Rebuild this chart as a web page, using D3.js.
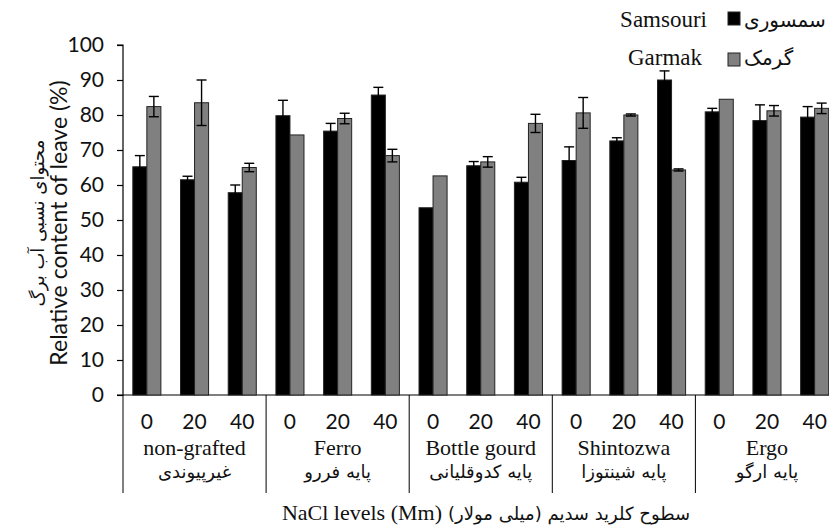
<!DOCTYPE html>
<html>
<head>
<meta charset="utf-8">
<script src="https://cdn.jsdelivr.net/npm/d3@7"></script>
<style>
  html, body { margin: 0; padding: 0; background: #fff; }
  svg { display: block; }
</style>
</head>
<body>
<svg id="chart" width="829" height="530"></svg>
<script>
// ---- data ----
const rootstocks = ["non-grafted", "Ferro", "Bottle gourd", "Shintozwa", "Ergo"];
const rootstocksFa = ["غیرپیوندی", "پایه فررو", "پایه کدوقلیانی", "پایه شینتوزا", "پایه ارگو"];
const nacl = ["0", "20", "40"];
const seriesNames = ["Samsouri", "Garmak"];
const seriesNamesFa = ["سمسوری", "گرمک"];
const samsouri = [65.2, 61.5, 57.8, 79.8, 75.4, 85.7, 53.5, 65.5, 60.8, 67.0, 72.6, 90.0, 80.9, 78.4, 79.4];
const samsouriErr = [3.2, 1.0, 2.2, 4.4, 2.2, 2.2, 0, 1.2, 1.4, 3.9, 0.9, 2.6, 1.0, 4.5, 3.0];
const garmak = [82.4, 83.5, 65.0, 74.3, 79.0, 68.4, 62.6, 66.6, 77.6, 80.6, 80.0, 64.3, 84.5, 81.2, 81.9];
const garmakErr = [2.9, 6.5, 1.2, 0, 1.5, 1.8, 0, 1.5, 2.6, 4.4, 0.3, 0.3, 0, 1.5, 1.5];
const yTicks = [0, 10, 20, 30, 40, 50, 60, 70, 80, 90, 100];

// ---- layout ----
const svg = d3.select("#chart");
const padL = 123, yBottom = 395, yTop = 45;
const catW = 47.7;
const cats = d3.range(rootstocks.length * nacl.length);

const x = d3.scaleBand().domain(cats).range([padL, padL + catW * cats.length]).paddingInner(0).paddingOuter(0);
const xs = d3.scaleBand().domain(seriesNames).range([0, x.bandwidth()]).paddingInner(0).paddingOuter(0.7);
const y = d3.scaleLinear().domain([0, 100]).range([yBottom, yTop]);

const colors = { Samsouri: "#000000", Garmak: "#808080" };
const sansFont = "Lato, 'Open Sans', sans-serif";
const serifFont = "'Liberation Serif', 'Times New Roman', serif";
const faFont = "'DejaVu Sans', 'Noto Sans', sans-serif";

// y axis
const yAxis = d3.axisLeft(y).tickValues(yTicks).tickSize(6).tickPadding(13).tickFormat(d3.format("d"));
const gy = svg.append("g").attr("transform", `translate(${padL},0)`).call(yAxis);
gy.select(".domain").attr("stroke", "#000").attr("stroke-width", 1.2).attr("d", `M-6,${yTop}H0V${yBottom}H-6`);
gy.selectAll(".tick line").attr("stroke", "#000").attr("stroke-width", 1.2);
gy.selectAll(".tick text").attr("font-family", sansFont).attr("font-size", 21).attr("fill", "#111");

// x baseline
svg.append("line").attr("x1", padL).attr("x2", 829).attr("y1", yBottom).attr("y2", yBottom)
  .attr("stroke", "#000").attr("stroke-width", 1.2);

// group separators
const groupEdges = d3.range(rootstocks.length + 1).map(i => padL + catW * 3 * i);
groupEdges.forEach(gx => {
  svg.append("line").attr("x1", gx).attr("x2", gx).attr("y1", yBottom).attr("y2", 493)
    .attr("stroke", "#000").attr("stroke-width", 1);
});

// bars
const data = cats.map(i => ({ i, values: [
  { s: "Samsouri", v: samsouri[i], e: samsouriErr[i] },
  { s: "Garmak", v: garmak[i], e: garmakErr[i] }
]}));

const g = svg.append("g");
const cat = g.selectAll("g.cat").data(data).enter().append("g")
  .attr("transform", d => `translate(${x(d.i)},0)`);

cat.selectAll("rect").data(d => d.values).enter().append("rect")
  .attr("x", d => xs(d.s))
  .attr("width", xs.bandwidth())
  .attr("y", d => y(d.v))
  .attr("height", d => y(0) - y(d.v))
  .attr("fill", d => colors[d.s])
  .attr("stroke", "#222").attr("stroke-width", 1);

// error bars
const capW = 10;
const eb = cat.selectAll("g.err").data(d => d.values.filter(v => v.e > 0)).enter().append("g");
const cxOf = d => xs(d.s) + xs.bandwidth() / 2;
eb.append("line")
  .attr("x1", cxOf).attr("x2", cxOf)
  .attr("y1", d => y(d.v - d.e)).attr("y2", d => y(d.v + d.e))
  .attr("stroke", "#000").attr("stroke-width", 1.4);
eb.append("line")
  .attr("x1", d => cxOf(d) - capW / 2).attr("x2", d => cxOf(d) + capW / 2)
  .attr("y1", d => y(d.v + d.e)).attr("y2", d => y(d.v + d.e))
  .attr("stroke", "#000").attr("stroke-width", 1.4);
eb.append("line")
  .attr("x1", d => cxOf(d) - capW / 2).attr("x2", d => cxOf(d) + capW / 2)
  .attr("y1", d => y(d.v - d.e)).attr("y2", d => y(d.v - d.e))
  .attr("stroke", "#000").attr("stroke-width", 1.4);

// x tick labels
cats.forEach(i => {
  svg.append("text").attr("x", x(i) + x.bandwidth() / 2).attr("y", 429)
    .attr("text-anchor", "middle").attr("font-family", sansFont).attr("font-size", 21).attr("fill", "#111")
    .text(nacl[i % 3]);
});
// group labels
rootstocks.forEach((r, gi) => {
  const cx = padL + catW * 3 * gi + catW * 1.5;
  svg.append("text").attr("x", cx).attr("y", 455).attr("text-anchor", "middle")
    .attr("font-family", serifFont).attr("font-size", 22).attr("fill", "#111").text(r);
  svg.append("text").attr("x", cx).attr("y", 478).attr("text-anchor", "middle")
    .attr("font-family", faFont).attr("font-size", 18).attr("fill", "#111").text(rootstocksFa[gi]);
});

// x title
svg.append("text").attr("x", 442).attr("y", 520).attr("text-anchor", "end")
  .attr("font-family", serifFont).attr("font-size", 22).attr("fill", "#111").text("NaCl levels (Mm)");
svg.append("text").attr("x", 448).attr("y", 520).attr("text-anchor", "start")
  .attr("font-family", faFont).attr("font-size", 18).attr("fill", "#111").text("سطوح کلرید سدیم (میلی مولار)");

// y titles
const yMid = 223;
svg.append("text").attr("transform", `translate(67,${yMid}) rotate(-90)`)
  .attr("text-anchor", "middle").attr("font-family", sansFont).attr("font-size", 23).attr("fill", "#111")
  .text("Relative content of leave (%)");
svg.append("text").attr("transform", `translate(44,${yMid}) rotate(-90)`)
  .attr("text-anchor", "middle").attr("font-family", faFont).attr("font-size", 18).attr("fill", "#111")
  .text("محتوای نسبی آب برگ");

// legend
const legRows = [{ yb: 27, sy: 12, tx: 707 }, { yb: 65, sy: 53, tx: 702 }];
seriesNames.forEach((s, k) => {
  const r = legRows[k];
  svg.append("text").attr("x", r.tx).attr("y", r.yb).attr("text-anchor", "end")
    .attr("font-family", serifFont).attr("font-size", 23).attr("fill", "#111").text(s);
  svg.append("rect").attr("x", 728).attr("y", r.sy).attr("width", 12).attr("height", 13)
    .attr("fill", colors[s]).attr("stroke", "#222").attr("stroke-width", 1);
  svg.append("text").attr("x", 744).attr("y", r.yb).attr("text-anchor", "start")
    .attr("font-family", faFont).attr("font-size", 20).attr("fill", "#111").text(seriesNamesFa[k]);
});
</script>
</body>
</html>
